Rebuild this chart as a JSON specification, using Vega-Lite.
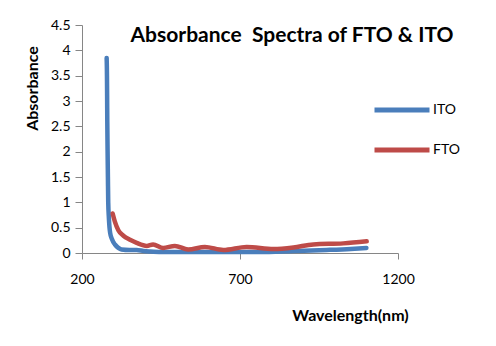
{
  "$schema": "https://vega.github.io/schema/vega-lite/v6.json",
  "width": 316,
  "height": 228,
  "autosize": {"type": "none"},
  "padding": {"left": 82, "top": 25, "right": 98, "bottom": 93},
  "background": "white",
  "title": {
    "text": "Absorbance\u00a0 Spectra of FTO & ITO",
    "font": "Lato",
    "fontSize": 21,
    "fontWeight": "bold",
    "color": "black",
    "anchor": "middle",
    "dx": 52,
    "baseline": "alphabetic",
    "offset": -45
  },
  "config": {
    "view": {"stroke": null},
    "font": "Lato",
    "axis": {
      "grid": false,
      "labelFlush": false,
      "domainColor": "#868686",
      "tickColor": "#868686",
      "labelColor": "black",
      "labelFont": "Lato",
      "labelFontSize": 14,
      "titleFont": "Lato",
      "titleFontSize": 16,
      "titleFontWeight": "bold",
      "titleColor": "black"
    }
  },
  "data": {
    "values": [
      {"wl": 278, "abs": 3.85, "s": "ITO"},
      {"wl": 279, "abs": 3.5, "s": "ITO"},
      {"wl": 279.5, "abs": 3.1, "s": "ITO"},
      {"wl": 280, "abs": 2.6, "s": "ITO"},
      {"wl": 281, "abs": 2.0, "s": "ITO"},
      {"wl": 282, "abs": 1.5, "s": "ITO"},
      {"wl": 283, "abs": 1.0, "s": "ITO"},
      {"wl": 285, "abs": 0.7, "s": "ITO"},
      {"wl": 289, "abs": 0.4, "s": "ITO"},
      {"wl": 295, "abs": 0.27, "s": "ITO"},
      {"wl": 304, "abs": 0.17, "s": "ITO"},
      {"wl": 315, "abs": 0.1, "s": "ITO"},
      {"wl": 325, "abs": 0.07, "s": "ITO"},
      {"wl": 350, "abs": 0.06, "s": "ITO"},
      {"wl": 373, "abs": 0.06, "s": "ITO"},
      {"wl": 395, "abs": 0.04, "s": "ITO"},
      {"wl": 415, "abs": 0.03, "s": "ITO"},
      {"wl": 450, "abs": 0.02, "s": "ITO"},
      {"wl": 552, "abs": 0.02, "s": "ITO"},
      {"wl": 650, "abs": 0.02, "s": "ITO"},
      {"wl": 763, "abs": 0.02, "s": "ITO"},
      {"wl": 869, "abs": 0.04, "s": "ITO"},
      {"wl": 974, "abs": 0.06, "s": "ITO"},
      {"wl": 1050, "abs": 0.08, "s": "ITO"},
      {"wl": 1100, "abs": 0.1, "s": "ITO"},
      {"wl": 297, "abs": 0.78, "s": "FTO"},
      {"wl": 304, "abs": 0.62, "s": "FTO"},
      {"wl": 315, "abs": 0.45, "s": "FTO"},
      {"wl": 331, "abs": 0.34, "s": "FTO"},
      {"wl": 352, "abs": 0.26, "s": "FTO"},
      {"wl": 373, "abs": 0.2, "s": "FTO"},
      {"wl": 405, "abs": 0.14, "s": "FTO"},
      {"wl": 425, "abs": 0.17, "s": "FTO"},
      {"wl": 457, "abs": 0.1, "s": "FTO"},
      {"wl": 494, "abs": 0.14, "s": "FTO"},
      {"wl": 536, "abs": 0.07, "s": "FTO"},
      {"wl": 589, "abs": 0.12, "s": "FTO"},
      {"wl": 647, "abs": 0.06, "s": "FTO"},
      {"wl": 721, "abs": 0.12, "s": "FTO"},
      {"wl": 806, "abs": 0.08, "s": "FTO"},
      {"wl": 869, "abs": 0.11, "s": "FTO"},
      {"wl": 932, "abs": 0.17, "s": "FTO"},
      {"wl": 1027, "abs": 0.19, "s": "FTO"},
      {"wl": 1101, "abs": 0.23, "s": "FTO"}
    ]
  },
  "mark": {"type": "line", "strokeWidth": 4.5, "strokeCap": "round", "strokeJoin": "round", "interpolate": "monotone"},
  "encoding": {
    "x": {
      "field": "wl", "type": "quantitative",
      "scale": {"domain": [200, 1200], "nice": false, "zero": false},
      "axis": {"values": [200, 700, 1200], "format": "d", "tickSize": 6, "labelPadding": 13, "title": "Wavelength(nm)", "titleX": 268, "titleY": 62, "titleBaseline": "middle", "titleAlign": "center"}
    },
    "y": {
      "field": "abs", "type": "quantitative",
      "scale": {"domain": [0, 4.5], "nice": false},
      "axis": {"values": [0, 0.5, 1, 1.5, 2, 2.5, 3, 3.5, 4, 4.5], "format": "~g", "tickSize": 7, "labelPadding": 5, "title": "Absorbance", "titleX": -50, "titleY": 63, "titleBaseline": "middle", "titleAlign": "center"}
    },
    "color": {
      "field": "s", "type": "nominal",
      "scale": {"domain": ["ITO", "FTO"], "range": ["#4A7EBB", "#BE4B48"]},
      "legend": {
        "title": null,
        "orient": "none",
        "legendX": 290,
        "legendY": 55,
        "symbolType": "stroke",
        "symbolSize": 3025,
        "symbolStrokeWidth": 5,
        "labelFontSize": 14,
        "labelFont": "Lato",
        "labelColor": "black",
        "labelOffset": 1,
        "rowPadding": -20
      }
    }
  }
}
